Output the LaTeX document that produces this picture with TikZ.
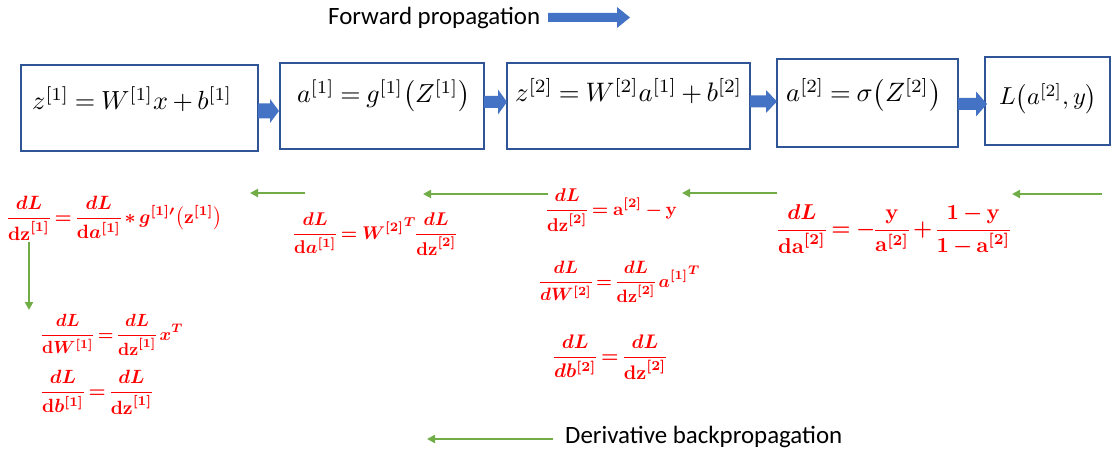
\documentclass[tikz,border=0pt]{standalone}
\usepackage[no-math]{fontspec}
\usepackage{amsmath}
\usetikzlibrary{arrows.meta}
\newfontfamily\calib{Carlito}
\definecolor{boxblue}{RGB}{47,85,151}
\definecolor{arrblue}{RGB}{68,114,196}
\definecolor{grn}{RGB}{112,173,71}
\thickmuskip=4mu plus 1mu
\medmuskip=3mu plus 1mu
\nulldelimiterspace=0pt
\newcommand\fitw[2]{\resizebox{#1}{!}{#2}}
\newcommand\blockarr[6]{%
  \fill[arrblue] (#1,#4-#5) -- (#2,#4-#5) -- (#2,#4-#6) -- (#3,#4) -- (#2,#4+#6) -- (#2,#4+#5) -- (#1,#4+#5) -- cycle;}
\tikzset{
  fwbox/.style={draw=boxblue, line width=2pt, fill=white, inner sep=0pt},
  boxtext/.style={anchor=base west, inner sep=0pt, text=black},
  eqn/.style={anchor=west, inner sep=0pt, text=red},
  garrow/.style={draw=grn, line width=2.2pt, -{Triangle[length=8pt,width=8pt]}},
  lbl/.style={anchor=base west, inner sep=0pt, text=black}
}
\begin{document}
\begin{tikzpicture}[x=1pt,y=-1pt]
\useasboundingbox (0,0) rectangle (1114,457);

% title
\node[lbl] (fwd) at (328,25) {\fitw{212pt}{\calib Forward propagation}};
\blockarr{548}{617}{630}{17.5}{4.5}{10.5}

% boxes
\node[fwbox, minimum width=237pt, minimum height=86pt] (b1) at (139.5,108) {};
\node[fwbox, minimum width=204pt, minimum height=86pt] (b2) at (382,106) {};
\node[fwbox, minimum width=243pt, minimum height=86pt] (b3) at (628.5,106) {};
\node[fwbox, minimum width=181pt, minimum height=88pt] (b4) at (867.5,103) {};
\node[fwbox, minimum width=125pt, minimum height=88pt] (b5) at (1047.5,101) {};

\node[boxtext] (t1) at (32,110) {\fitw{200pt}{$z^{[1]} = W^{[1]}x + b^{[1]}$}};
\node[boxtext] (t2) at (297,103) {\fitw{173pt}{$a^{[1]} = g^{[1]}\bigl(Z^{[1]}\bigr)$}};
\node[boxtext] (t3) at (515,102) {\fitw{227pt}{$z^{[2]} = W^{[2]}a^{[1]} + b^{[2]}$}};
\node[boxtext] (t4) at (786,102) {\fitw{155pt}{$a^{[2]} = \sigma\bigl(Z^{[2]}\bigr)$}};
\node[boxtext] (t5) at (999,105) {\fitw{98pt}{$L\bigl(a^{[2]}, y\bigr)$}};

% block arrows between boxes
\blockarr{258}{270}{279}{111}{7.5}{12}
\blockarr{484}{498}{507}{102}{6}{12.5}
\blockarr{750}{766}{777}{101.5}{6}{11.5}
\blockarr{958}{976}{987}{104}{6}{12.5}

% green arrows
\coordinate (g1s) at (305,193); \coordinate (g1e) at (250,193);
\coordinate (g2s) at (548,194); \coordinate (g2e) at (423,194);
\coordinate (g3s) at (777,193); \coordinate (g3e) at (682,193);
\coordinate (g4s) at (1102,194); \coordinate (g4e) at (1012,194);
\coordinate (g5s) at (29,242); \coordinate (g5e) at (29,310);
\coordinate (g6s) at (553,439); \coordinate (g6e) at (427,439);
\draw[garrow] (g1s) -- (g1e);
\draw[garrow] (g2s) -- (g2e);
\draw[garrow] (g3s) -- (g3e);
\draw[garrow] (g4s) -- (g4e);
\draw[garrow] (g5s) -- (g5e);
\draw[garrow] (g6s) -- (g6e);

% equations
\node[eqn] (e1) at (8,218) {\fitw{214pt}{\boldmath$\displaystyle \frac{dL}{\mathbf{dz}^{[1]}} = \frac{dL}{\mathbf{d}a^{[1]}} * g^{[1]\prime}\bigl(\mathbf{z}^{[1]}\bigr)$}};
\node[eqn] (e2) at (294,234) {\fitw{162pt}{\boldmath$\displaystyle \frac{dL}{\mathbf{d}a^{[1]}} = {W^{[2]}}^{T} \frac{dL}{\mathbf{dz}^{[2]}}$}};
\node[eqn] (e3) at (547,210) {\fitw{130pt}{\boldmath$\displaystyle \frac{dL}{\mathbf{dz}^{[2]}} = \mathbf{a}^{[2]} - \mathbf{y}$}};
\node[eqn] (e4) at (778,230) {\fitw{232pt}{\boldmath$\displaystyle \frac{dL}{\mathbf{da}^{[2]}} = -\frac{\mathbf{y}}{\mathbf{a}^{[2]}} + \frac{\mathbf{1-y}}{\mathbf{1-a}^{[2]}}$}};
\node[eqn] (e5) at (540,282) {\fitw{160pt}{\boldmath$\displaystyle \frac{dL}{dW^{[2]}} = \frac{dL}{\mathbf{dz}^{[2]}}\, {a^{[1]}}^{T}$}};
\node[eqn] (e6) at (554,357) {\fitw{112pt}{\boldmath$\displaystyle \frac{dL}{db^{[2]}} = \frac{dL}{\mathbf{dz}^{[2]}}$}};
\node[eqn] (e7) at (42,335) {\fitw{141pt}{\boldmath$\displaystyle \frac{dL}{\mathbf{d}W^{[1]}} = \frac{dL}{\mathbf{dz}^{[1]}}\, x^{T}$}};
\node[eqn] (e8) at (42,392) {\fitw{110pt}{\boldmath$\displaystyle \frac{dL}{\mathbf{d}b^{[1]}} = \frac{dL}{\mathbf{dz}^{[1]}}$}};

% bottom label
\node[lbl] (bwd) at (565,443) {\fitw{277pt}{\calib Derivative backpropagation}};
\end{tikzpicture}
\end{document}
